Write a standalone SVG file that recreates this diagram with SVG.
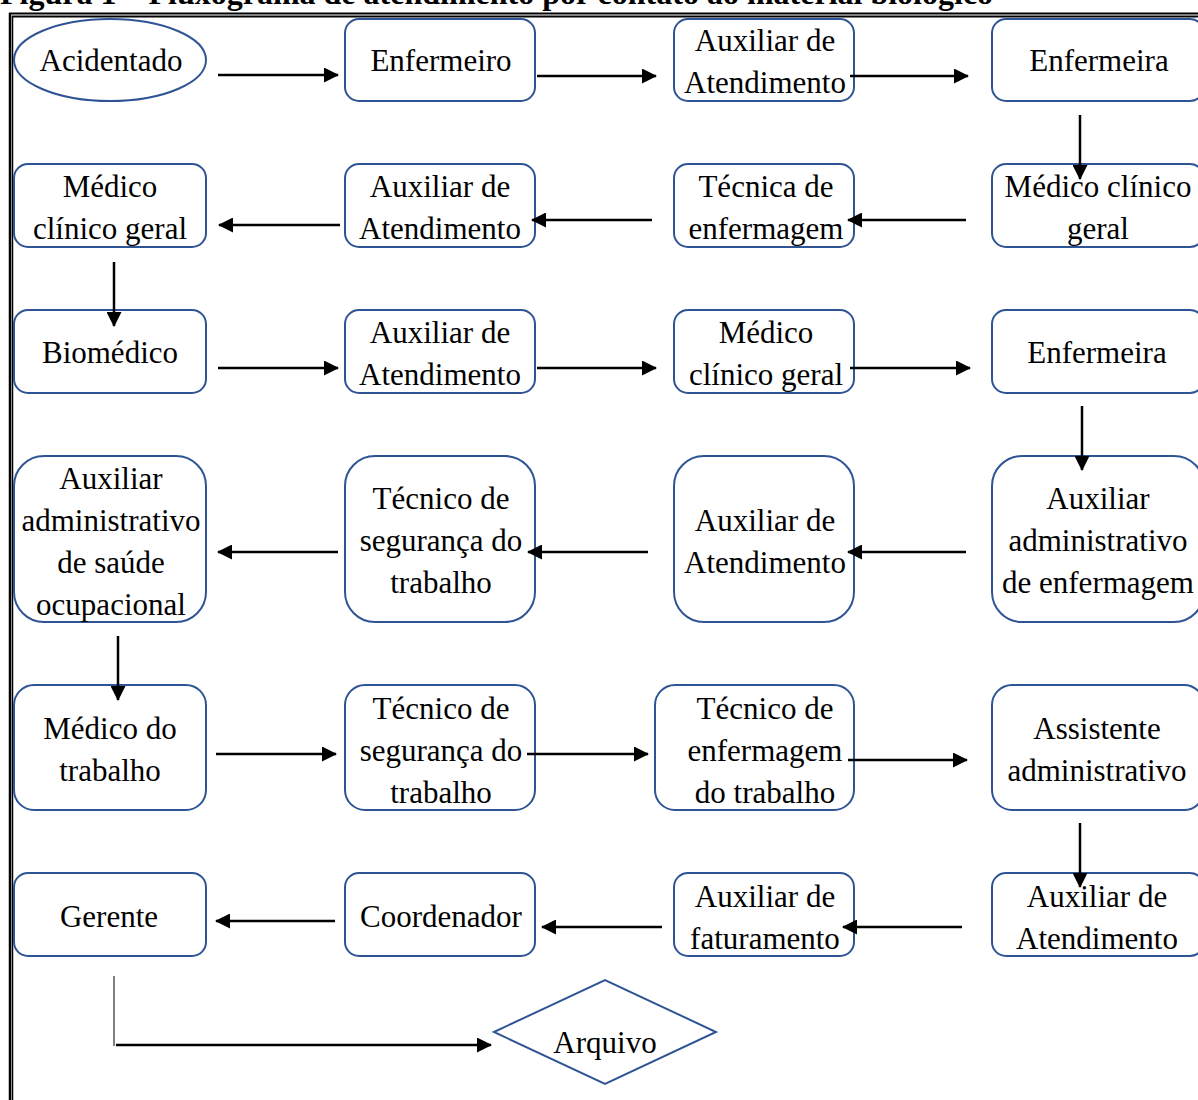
<svg xmlns="http://www.w3.org/2000/svg" width="1198" height="1100" viewBox="0 0 1198 1100">
<style>
.box{fill:#fff;stroke:#2F5496;stroke-width:2}
.t{font-family:"Liberation Serif","Times New Roman",serif;font-size:31px;fill:#000;text-anchor:middle}
.title{font-family:"Liberation Serif","Times New Roman",serif;font-size:32px;font-weight:bold;fill:#000}
.c{stroke:#000;stroke-width:2.5;fill:none;marker-end:url(#ah)}
.frame{stroke:#000;fill:none}
</style>
<defs>
<marker id="ah" viewBox="0 0 15 15" refX="14" refY="7.5" markerWidth="15" markerHeight="15" markerUnits="userSpaceOnUse" orient="auto">
<path d="M0,0 L15,7.5 L0,15 z" fill="#000"/>
</marker>
</defs>
<rect width="1198" height="1100" fill="#fff"/>
<text class="title" x="0" y="4">Figura 1 – Fluxograma de atendimento por contato ao material biológico</text>
<g id="frame">
<line class="frame" x1="9" y1="13.5" x2="1198" y2="13.5" stroke-width="2"/>
<line class="frame" x1="12" y1="16.5" x2="1198" y2="16.5" stroke-width="2"/>
<line class="frame" x1="10" y1="13" x2="10" y2="1100" stroke-width="2.5"/>
<line class="frame" x1="12.5" y1="16" x2="12.5" y2="1100" stroke-width="1.5"/>
</g>

<g id="n1"><ellipse class="box" cx="110" cy="60" rx="96" ry="41"/><text class="t" x="111" y="71">Acidentado</text></g>
<g id="n2"><rect class="box" x="345" y="19" width="190" height="82" rx="14"/><text class="t" x="441" y="71">Enfermeiro</text></g>
<g id="n3"><rect class="box" x="674" y="19" width="180" height="82" rx="14"/><text class="t" x="765" y="51">Auxiliar de</text><text class="t" x="765" y="93">Atendimento</text></g>
<g id="n4"><rect class="box" x="992" y="19" width="212" height="82" rx="14"/><text class="t" x="1099" y="71">Enfermeira</text></g>

<g id="n5"><rect class="box" x="992" y="164" width="212" height="83" rx="14"/><text class="t" x="1098" y="197">Médico clínico</text><text class="t" x="1098" y="239">geral</text></g>
<g id="n6"><rect class="box" x="674" y="164" width="180" height="83" rx="14"/><text class="t" x="766" y="197">Técnica de</text><text class="t" x="766" y="239">enfermagem</text></g>
<g id="n7"><rect class="box" x="345" y="164" width="190" height="83" rx="14"/><text class="t" x="440" y="197">Auxiliar de</text><text class="t" x="440" y="239">Atendimento</text></g>
<g id="n8"><rect class="box" x="14" y="164" width="192" height="83" rx="14"/><text class="t" x="110" y="197">Médico</text><text class="t" x="110" y="239">clínico geral</text></g>

<g id="n9"><rect class="box" x="14" y="310" width="192" height="83" rx="14"/><text class="t" x="110" y="363">Biomédico</text></g>
<g id="n10"><rect class="box" x="345" y="310" width="190" height="83" rx="14"/><text class="t" x="440" y="343">Auxiliar de</text><text class="t" x="440" y="385">Atendimento</text></g>
<g id="n11"><rect class="box" x="674" y="310" width="180" height="83" rx="14"/><text class="t" x="766" y="343">Médico</text><text class="t" x="766" y="385">clínico geral</text></g>
<g id="n12"><rect class="box" x="992" y="310" width="212" height="83" rx="14"/><text class="t" x="1097" y="363">Enfermeira</text></g>

<g id="n13"><rect class="box" x="992" y="456" width="212" height="166" rx="30"/><text class="t" x="1098" y="509">Auxiliar</text><text class="t" x="1098" y="551">administrativo</text><text class="t" x="1098" y="593">de enfermagem</text></g>
<g id="n14"><rect class="box" x="674" y="456" width="180" height="166" rx="30"/><text class="t" x="765" y="531">Auxiliar de</text><text class="t" x="765" y="573">Atendimento</text></g>
<g id="n15"><rect class="box" x="345" y="456" width="190" height="166" rx="30"/><text class="t" x="441" y="509">Técnico de</text><text class="t" x="441" y="551">segurança do</text><text class="t" x="441" y="593">trabalho</text></g>
<g id="n16"><rect class="box" x="14" y="456" width="192" height="166" rx="30"/><text class="t" x="111" y="489">Auxiliar</text><text class="t" x="111" y="531">administrativo</text><text class="t" x="111" y="573">de saúde</text><text class="t" x="111" y="615">ocupacional</text></g>

<g id="n17"><rect class="box" x="14" y="685" width="192" height="125" rx="20"/><text class="t" x="110" y="739">Médico do</text><text class="t" x="110" y="781">trabalho</text></g>
<g id="n18"><rect class="box" x="345" y="685" width="190" height="125" rx="20"/><text class="t" x="441" y="719">Técnico de</text><text class="t" x="441" y="761">segurança do</text><text class="t" x="441" y="803">trabalho</text></g>
<g id="n19"><rect class="box" x="655" y="685" width="199" height="125" rx="20"/><text class="t" x="765" y="719">Técnico de</text><text class="t" x="765" y="761">enfermagem</text><text class="t" x="765" y="803">do trabalho</text></g>
<g id="n20"><rect class="box" x="992" y="685" width="212" height="125" rx="20"/><text class="t" x="1097" y="739">Assistente</text><text class="t" x="1097" y="781">administrativo</text></g>

<g id="n21"><rect class="box" x="992" y="873" width="212" height="83" rx="14"/><text class="t" x="1097" y="907">Auxiliar de</text><text class="t" x="1097" y="949">Atendimento</text></g>
<g id="n22"><rect class="box" x="674" y="873" width="180" height="83" rx="14"/><text class="t" x="765" y="907">Auxiliar de</text><text class="t" x="765" y="949">faturamento</text></g>
<g id="n23"><rect class="box" x="345" y="873" width="190" height="83" rx="14"/><text class="t" x="441" y="927">Coordenador</text></g>
<g id="n24"><rect class="box" x="14" y="873" width="192" height="83" rx="14"/><text class="t" x="109" y="927">Gerente</text></g>

<g id="n25"><polygon class="box" points="494,1032 605,980 716,1032 605,1084"/><text class="t" x="605" y="1053">Arquivo</text></g>

<g id="connectors">
<line class="c" x1="218" y1="75" x2="338" y2="75"/>
<line class="c" x1="537" y1="76" x2="656" y2="76"/>
<line class="c" x1="850" y1="76" x2="968" y2="76"/>
<line class="c" x1="1080" y1="115" x2="1080" y2="179"/>
<line class="c" x1="966" y1="220" x2="848" y2="220"/>
<line class="c" x1="652" y1="220" x2="532" y2="220"/>
<line class="c" x1="340" y1="225" x2="219" y2="225"/>
<line class="c" x1="114" y1="262" x2="114" y2="326"/>
<line class="c" x1="218" y1="368" x2="338" y2="368"/>
<line class="c" x1="537" y1="368" x2="656" y2="368"/>
<line class="c" x1="850" y1="368" x2="970" y2="368"/>
<line class="c" x1="1082" y1="406" x2="1082" y2="470"/>
<line class="c" x1="966" y1="552" x2="848" y2="552"/>
<line class="c" x1="648" y1="552" x2="528" y2="552"/>
<line class="c" x1="338" y1="552" x2="218" y2="552"/>
<line class="c" x1="118" y1="636" x2="118" y2="700"/>
<line class="c" x1="216" y1="754" x2="336" y2="754"/>
<line class="c" x1="527" y1="754" x2="648" y2="754"/>
<line class="c" x1="848" y1="760" x2="967" y2="760"/>
<line class="c" x1="1080" y1="823" x2="1080" y2="887"/>
<line class="c" x1="962" y1="927" x2="843" y2="927"/>
<line class="c" x1="662" y1="927" x2="542" y2="927"/>
<line class="c" x1="335" y1="921" x2="216" y2="921"/>
<line x1="114" y1="976" x2="114" y2="1046" stroke="#555" stroke-width="1.5"/>
<line class="c" x1="116" y1="1045" x2="491" y2="1045"/>
</g>
</svg>
